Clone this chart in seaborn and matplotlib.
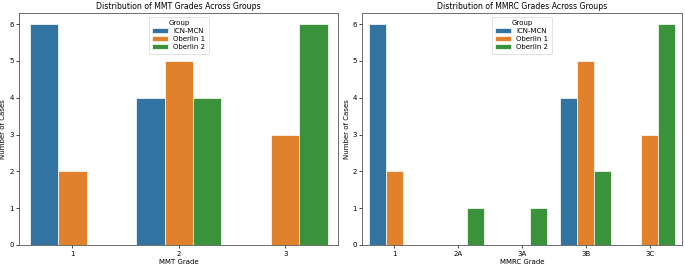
import pandas as pd
import seaborn as sns
import matplotlib.pyplot as plt

groups = ['ICN-MCN', 'Oberlin 1', 'Oberlin 2']

mmt_grades = ['1', '2', '3']
mmt_icn = [6, 4, 0]
mmt_ob1 = [2, 5, 3]
mmt_ob2 = [0, 4, 6]

mmrc_grades = ['1', '2A', '3A', '3B', '3C']
mmrc_icn = [6, 0, 0, 4, 0]
mmrc_ob1 = [2, 0, 0, 5, 3]
mmrc_ob2 = [0, 1, 1, 2, 6]


def to_long(grades, series):
    rows = []
    for g, vals in zip(groups, series):
        for grade, v in zip(grades, vals):
            rows.append({'Grade': grade, 'Group': g, 'Count': v})
    return pd.DataFrame(rows)


df_mmt = to_long(mmt_grades, [mmt_icn, mmt_ob1, mmt_ob2])
df_mmrc = to_long(mmrc_grades, [mmrc_icn, mmrc_ob1, mmrc_ob2])

plt.rcParams['font.family'] = ['DejaVu Sans']
fig, axes = plt.subplots(1, 2, figsize=(6.85, 2.66), dpi=100)

panels = [
    (df_mmt, mmt_grades, 'MMT Grade', 'Distribution of MMT Grades Across Groups'),
    (df_mmrc, mmrc_grades, 'MMRC Grade', 'Distribution of MMRC Grades Across Groups'),
]

for ax, (df, order, xlab, title) in zip(axes, panels):
    sns.barplot(data=df, x='Grade', y='Count', hue='Group', order=order,
                hue_order=groups, ax=ax, edgecolor='white', linewidth=0.5)
    ax.set_title(title, fontsize=5.6, pad=3)
    ax.set_xlabel(xlab, fontsize=5, labelpad=2)
    ax.set_ylabel('Number of Cases', fontsize=5, labelpad=2)
    ax.tick_params(labelsize=5, length=2, width=0.5, pad=2)
    for s in ax.spines.values():
        s.set_linewidth(0.6)
        s.set_color('#555555')
    leg = ax.legend(title='Group', loc='upper center', fontsize=5,
                    title_fontsize=5, frameon=True, handlelength=2.2,
                    borderpad=0.5, labelspacing=0.3)
    leg.get_frame().set_linewidth(0.5)

plt.subplots_adjust(left=0.028, right=0.995, bottom=0.079, top=0.951, wspace=0.075)
plt.savefig('out.png', dpi=100)
